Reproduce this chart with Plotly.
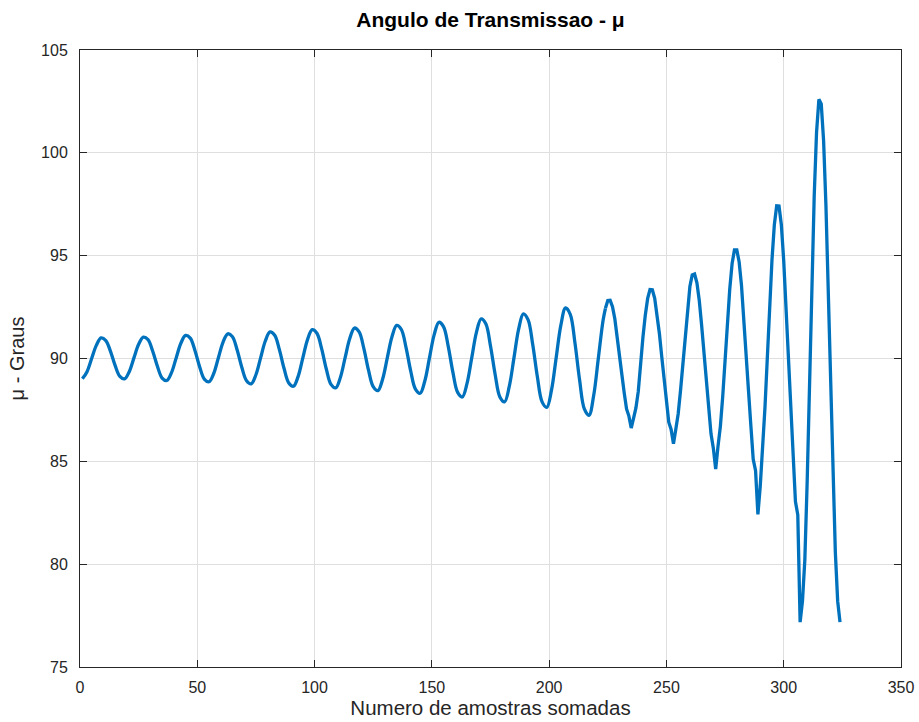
import plotly.graph_objects as go

# sample indices: every 2nd sample for the early (small-amplitude) part, every sample afterwards
x_early = list(range(1, 224, 2))
y_early = [
    89.01, 89.36, 90.01, 90.65, 91.00,
    90.87, 90.35, 89.65, 89.13, 89.01, 89.36, 90.03, 90.69, 91.04,
    90.92, 90.35, 89.62, 89.05, 88.93, 89.31, 90.03, 90.74, 91.12,
    90.99, 90.39, 89.60, 89.00, 88.87, 89.27, 90.04, 90.80, 91.20,
    91.06, 90.41, 89.56, 88.92, 88.77, 89.21, 90.03, 90.85, 91.29,
    91.13, 90.43, 89.51, 88.81, 88.65, 89.13, 90.03, 90.92, 91.40,
    91.23, 90.48, 89.49, 88.74, 88.57, 89.08, 90.03, 90.97, 91.48,
    91.29, 90.49, 89.43, 88.63, 88.44, 88.99, 90.03, 91.06, 91.61,
    91.41, 90.53, 89.38, 88.51, 88.31, 88.91, 90.04, 91.16, 91.76,
    91.54, 90.58, 89.31, 88.35, 88.13, 88.79, 90.03, 91.27, 91.93,
    91.69, 90.61, 89.21, 88.13, 87.89, 88.64, 90.03, 91.43, 92.17,
    91.89, 90.68, 89.10, 87.89, 87.62, 88.46, 90.04, 91.62, 92.46,
    92.15, 90.76, 88.94, 87.55, 87.24, 88.21, 90.04, 91.86,
]

x_late = list(range(224, 325))
y_late = [
    92.44, 92.82, 92.83, 92.52, 91.93, 91.12, 90.18, 89.22, 88.33, 87.55,
    87.20, 86.62, 87.10, 87.60, 88.40, 89.86, 91.05, 92.12, 92.92, 93.35,
    93.34, 92.93, 92.20, 91.22, 90.09, 88.93, 87.88, 86.90, 86.55, 85.85,
    86.56, 87.30, 88.43, 89.79, 91.22, 92.51, 93.50, 94.06, 94.11, 93.68,
    92.82, 91.62, 90.21, 88.76, 87.42, 86.34, 85.64, 84.62, 85.74, 86.70,
    88.16, 89.92, 91.74, 93.38, 94.62, 95.28, 95.28, 94.69, 93.56, 92.02,
    90.24, 88.41, 86.73, 85.10, 84.55, 82.42, 83.80, 85.50, 87.60, 90.00,
    92.50, 94.80, 96.50, 97.42, 97.41, 96.49, 94.76, 92.42, 89.77, 87.11,
    84.77, 83.04, 82.40, 77.18, 78.20, 80.20, 84.00, 88.80, 93.60, 97.90,
    101.00, 102.60, 102.38, 100.60, 97.44, 93.31, 88.77, 84.41, 80.60, 78.20,
    77.18,
]

x_ticks = [0, 50, 100, 150, 200, 250, 300, 350]
y_ticks = [75, 80, 85, 90, 95, 100, 105]

title_text = "Angulo de Transmissao - μ"
x_title = "Numero de amostras somadas"
y_title = "μ - Graus"

FONT = "Liberation Sans, Arial, Helvetica, sans-serif"
AX = "#262626"
GRID = "#dfdfdf"
LINE = dict(color="#0072BD", width=3.3)

fig = go.Figure()
# smooth early part (sparser samples) joined to the densely sampled late part
fig.add_trace(go.Scatter(x=x_early + x_late[:1], y=y_early + y_late[:1], mode="lines",
                         line=dict(shape="spline", smoothing=1.0, **LINE), showlegend=False))
fig.add_trace(go.Scatter(x=x_late, y=y_late, mode="lines",
                         line=LINE, showlegend=False))

axis_common = dict(
    showline=True, linecolor=AX, linewidth=1, mirror="ticks",
    ticks="inside", ticklen=7, tickcolor=AX, tickwidth=1,
    showgrid=True, gridcolor=GRID, gridwidth=1, zeroline=False,
    tickfont=dict(family=FONT, size=16, color=AX), automargin=False,
)

fig.update_layout(
    width=919, height=722,
    margin=dict(l=80, r=18, t=50, b=55),
    paper_bgcolor="white", plot_bgcolor="white",
    title=dict(text="<b>" + title_text + "</b>", x=0.5, xref="paper", xanchor="center",
               y=1 - 20 / 722, yref="container", yanchor="middle",
               font=dict(family=FONT, size=21, color="black")),
    xaxis=dict(range=[0, 350], tickvals=x_ticks, ticktext=[str(v) for v in x_ticks],
               ticklabelstandoff=6,
               title=dict(text=x_title, font=dict(family=FONT, size=20.5, color=AX), standoff=4),
               **axis_common),
    yaxis=dict(range=[75, 105], tickvals=y_ticks, ticktext=[str(v) for v in y_ticks],
               ticklabelstandoff=8,
               title=dict(text=y_title, font=dict(family=FONT, size=20, color=AX), standoff=11),
               **axis_common),
)

fig.write_html("out.html")
